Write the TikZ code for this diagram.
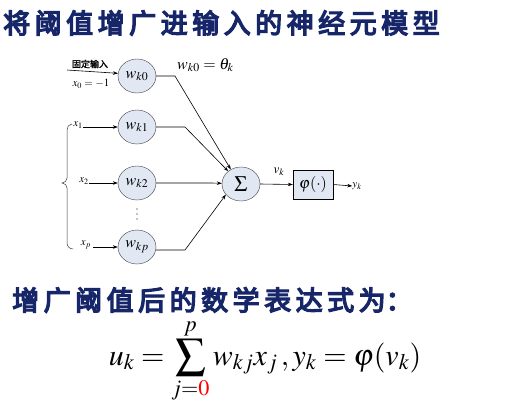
\documentclass[tikz,border=0pt]{standalone}
\usepackage{mathptmx}
\usepackage{fontspec}
\newfontfamily\cjk{Noto Sans CJK SC}[FakeBold=5]
\newfontfamily\cjksmall{Noto Sans CJK SC}[FakeBold=1.5]
\usetikzlibrary{arrows.meta,shapes.geometric}
\definecolor{navy}{RGB}{22,38,105}
\definecolor{cellfill}{RGB}{226,232,243}
\definecolor{edgegray}{RGB}{60,60,60}
\begin{document}
\begin{tikzpicture}[x=1pt,y=-1pt,
  wnode/.style={ellipse,draw=edgegray,fill=cellfill,minimum width=38pt,minimum height=34pt,inner sep=0pt,font=\fontsize{16}{18}\selectfont},
  conn/.style={draw=black,line width=0.6pt},
  arr/.style={conn,-{Stealth[length=5pt,width=3.5pt]}},
  lbl/.style={inner sep=0pt,font=\fontsize{11}{13}\selectfont},
  title/.style={inner sep=0pt,anchor=west,text=navy,font=\cjk\fontsize{27}{30}\selectfont}
]
\useasboundingbox[fill=white] (0,0) rectangle (523,413);

\node[title] (t1) at (3,23) {将\,阈\,值\,增\,广\,进\,输\,入\,的\,神\,经\,元\,模\,型};

\node[wnode] (w0) at (137,76) {$w_{k0}$};
\node[wnode] (w1) at (137,127) {$w_{k1}$};
\node[wnode] (w2) at (137,183) {$w_{k2}$};
\node[wnode] (wp) at (137,247) {$w_{kp}$};
\foreach \yy in {209,214,219} \fill (137,\yy) circle (0.7pt);

\node[ellipse,draw=edgegray,fill=cellfill,minimum width=38pt,minimum height=34pt,inner sep=0pt,font=\fontsize{22}{24}\selectfont] (sum) at (241,184) {$\Sigma$};
\node[draw=black,fill=cellfill,minimum width=40pt,minimum height=29pt,inner sep=0pt,font=\fontsize{16}{18}\selectfont] (phi) at (313,184.5) {$\varphi(\cdot)$};
\node[lbl] (yk) at (357,186) {$y_k$};
\node[lbl,font=\fontsize{13}{15}\selectfont] (vk) at (279,172) {$v_k$};
\node[lbl,font=\fontsize{16}{18}\selectfont,anchor=west] (theta) at (177,65) {$w_{k0}=\theta_k$};

\node[lbl,font=\cjksmall\fontsize{9}{10}\selectfont] (fix) at (90,64) {固定输入};
\node[lbl] (x0) at (91,84) {$x_0=-1$};
\node[lbl] (x1) at (78,125) {$x_1$};
\node[lbl] (x2) at (84,181) {$x_2$};
\node[lbl] (xp) at (86,245) {$x_p$};

\coordinate (s0) at (67,70);
\draw[arr] (s0) -- (w0.172);
\draw[arr] (x1.east |- w1) -- (w1.west);
\draw[arr] (x2.east |- w2) -- (w2.west);
\draw[arr] ([xshift=2pt]xp.east |- wp) -- (wp.west);

\coordinate (b0) at (175,76);
\coordinate (b1) at (185,127);
\coordinate (b2) at (212,183);
\coordinate (bp) at (185,250);
\draw[arr] (w0.east) -- (b0) -- (sum.125);
\draw[arr] (w1.east) -- (b1) -- (sum.135);
\draw[arr] (w2.east) -- (b2) -- (sum.178);
\draw[arr] (wp.east |- bp) -- (bp) -- (sum.215);

\draw[arr] (sum.east) -- (phi.west);
\draw[arr] (phi.east) -- (yk.west);

\draw[draw=edgegray,line width=0.5pt] (72,124) to[out=180,in=90] (67,130) -- (67,178) to[out=-90,in=0] (62,183) to[out=0,in=90] (67,188) -- (67,243) to[out=-90,in=180] (73,249);

\node[title] (t2) at (12,300) {增\,广\,阈\,值\,后\,的\,数\,学\,表\,达\,式\,为：};

\node[inner sep=0pt,font=\fontsize{30}{36}\selectfont] (eq) at (265,361) {$\displaystyle u_k=\sum_{j=\textcolor{red}{0}}^{p} w_{kj}x_j\,,y_k=\varphi(v_k)$};
\end{tikzpicture}
\end{document}
